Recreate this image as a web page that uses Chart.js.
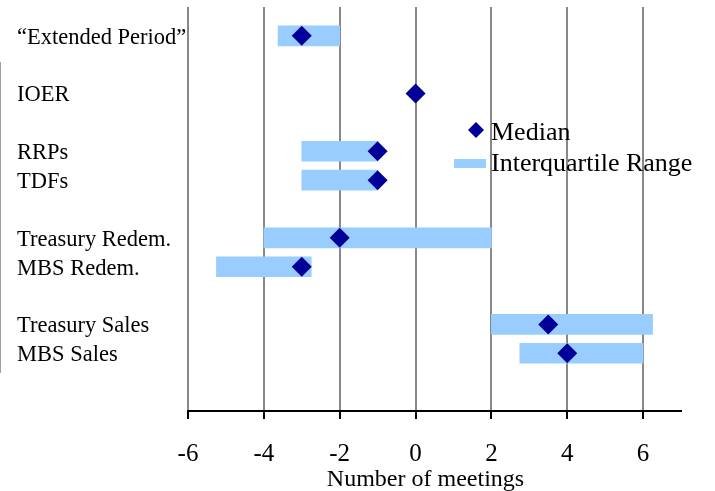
<!DOCTYPE html>
<html><head><meta charset="utf-8">
<script src="https://cdn.jsdelivr.net/npm/chart.js@4"></script>
<style>html,body{margin:0;padding:0;background:#fff}#wrap{position:relative;width:715px;height:491px}</style>
</head><body><div id="wrap"><canvas id="c" width="715" height="491"></canvas></div>
<script>
const categories = ['\u201CExtended Period\u201D','IOER','RRPs','TDFs','Treasury Redem.','MBS Redem.','Treasury Sales','MBS Sales'];
const rowPositions = [1,3,5,6,8,9,11,12];
const iqrLow  = [-3.625, null, -3, -3, -4, -5.25, 2, 2.75];
const iqrHigh = [-2, null, -1, -1, 2, -2.75, 6.25, 6];
const medians = [-3, 0, -1, -1, -2, -3, 3.5, 4];
const xTicks = [-6,-4,-2,0,2,4,6];
const seriesNames = ['Median','Interquartile Range'];
const xTitle = 'Number of meetings';

const FONT = '"Liberation Serif", "Times New Roman", serif';
const DIAMOND = '#000099';
const BAR = '#99CCFF';

const legendPlugin = {
  id: 'customLegend',
  afterDraw(chart) {
    const ctx = chart.ctx;
    ctx.save();
    const dx = 476, dy = 130, r = 8;
    ctx.fillStyle = DIAMOND;
    ctx.beginPath();
    ctx.moveTo(dx - r, dy); ctx.lineTo(dx, dy - r); ctx.lineTo(dx + r, dy); ctx.lineTo(dx, dy + r); ctx.closePath();
    ctx.fill();
    ctx.fillStyle = BAR;
    ctx.fillRect(454, 159, 32, 9);
    ctx.fillStyle = '#000';
    ctx.font = '26px ' + FONT;
    ctx.textBaseline = 'alphabetic';
    ctx.textAlign = 'left';
    ctx.fillText(seriesNames[0], 491, 140);
    ctx.fillText(seriesNames[1], 491, 171);
    ctx.strokeStyle = '#a0a0a0';
    ctx.lineWidth = 1;
    ctx.beginPath(); ctx.moveTo(0.5, 62); ctx.lineTo(0.5, 373); ctx.stroke();
    ctx.restore();
  }
};

new Chart(document.getElementById('c'), {
  type: 'bar',
  data: {
    datasets: [
      {
        type: 'scatter',
        label: seriesNames[0],
        data: medians.map((m, i) => ({ x: m, y: rowPositions[i] })),
        pointStyle: 'rectRot',
        pointRadius: 10,
        pointBackgroundColor: DIAMOND,
        pointBorderColor: DIAMOND,
        pointBorderWidth: 0,
        order: 1
      },
      {
        type: 'bar',
        label: seriesNames[1],
        indexAxis: 'y',
        data: rowPositions.map((p, i) => ({ y: p, x: iqrLow[i] === null ? null : [iqrLow[i], iqrHigh[i]] })),
        backgroundColor: BAR,
        borderWidth: 0,
        barThickness: 20,
        order: 2
      }
    ]
  },
  options: {
    responsive: false,
    animation: false,
    indexAxis: 'y',
    layout: { autoPadding: false, padding: { left: 17, top: 7, right: 34, bottom: 0 } },
    plugins: { legend: { display: false }, tooltip: { enabled: false } },
    scales: {
      x: {
        type: 'linear',
        min: -6, max: 7,
        offset: false,
        afterBuildTicks(scale) { scale.ticks = xTicks.map(v => ({ value: v })); },
        afterFit(scale) { scale.paddingLeft = 0; scale.paddingRight = 0; scale.height = 80; },
        ticks: { font: { family: FONT, size: 25, lineHeight: 1 }, color: '#000', padding: 23, maxRotation: 0 },
        grid: { color: '#888888', lineWidth: 2, tickColor: '#000', tickLength: 8, tickWidth: 2, offset: false },
        border: { display: true, color: '#000', width: 2 },
        title: { display: true, text: xTitle + '\u00A0\u00A0\u00A0', font: { family: FONT, size: 24, lineHeight: 1 }, color: '#000', padding: { top: 4, bottom: -1 } }
      },
      y: {
        type: 'linear',
        min: 0, max: 14,
        reverse: true,
        offset: false,
        afterBuildTicks(scale) { scale.ticks = rowPositions.map(v => ({ value: v })); },
        afterFit(scale) { scale.width = 171; scale.paddingTop = 0; scale.paddingBottom = 0; },
        ticks: {
          font: { family: FONT, size: 22.5 }, color: '#000', crossAlign: 'far', padding: 3, labelOffset: 2,
          callback(v) { const i = rowPositions.indexOf(v); return i >= 0 ? categories[i] : ''; }
        },
        grid: { display: false, offset: false },
        border: { display: false }
      }
    }
  },
  plugins: [legendPlugin]
});
</script>
</body></html>
